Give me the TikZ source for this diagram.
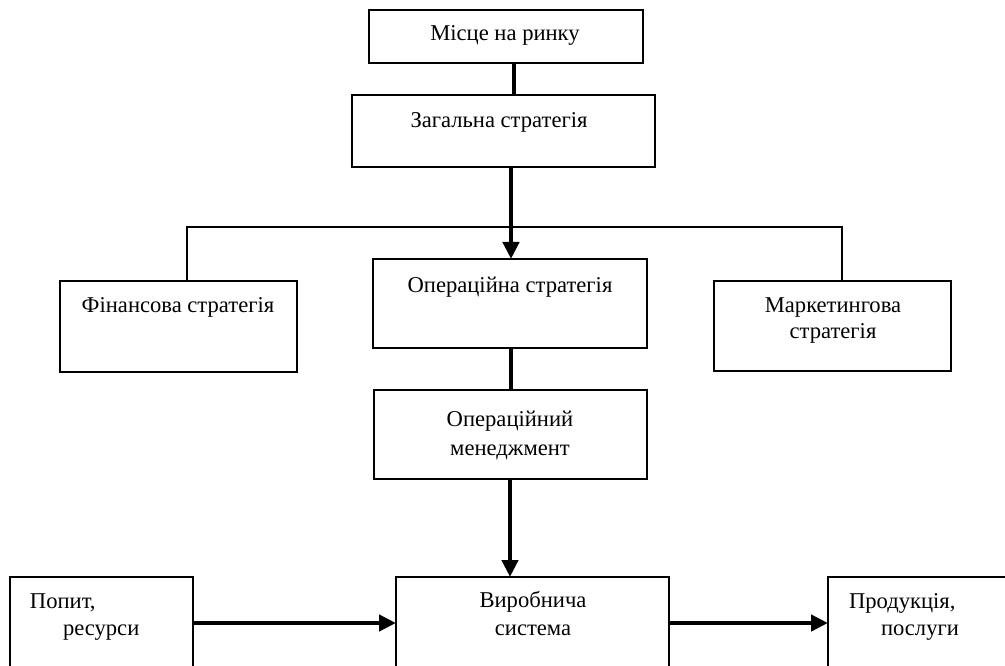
\documentclass[tikz,border=0pt]{standalone}
\usepackage{fontspec}
\setmainfont{Liberation Serif}
\usetikzlibrary{arrows.meta}
\begin{document}
\begin{tikzpicture}[x=1pt,y=-1pt,
  box/.style={draw=black,line width=2pt,inner sep=0pt,outer sep=0pt,fill=white},
  label/.style={inner sep=0pt,outer sep=0pt,anchor=base,
    font=\fontsize{22.6}{29}\selectfont},
  labelw/.style={label,anchor=base west},
  link/.style={draw=black,line width=4.5pt},
  flow/.style={link,-{Triangle[length=17pt,width=16pt]}},
  branch/.style={draw=black,line width=2pt}]
  % page frame
  \useasboundingbox (0,0) rectangle (1005,666);
  \clip (0,0) rectangle (1005,666);

  % boxes
  \node[box,minimum width=274pt,minimum height=53pt] (place) at (506,36.5) {};
  \node[box,minimum width=303pt,minimum height=72pt] (general) at (503.5,131) {};
  \node[box,minimum width=237pt,minimum height=91pt] (finance) at (178.5,326.5) {};
  \node[box,minimum width=274pt,minimum height=89pt] (opstrat) at (510,303.5) {};
  \node[box,minimum width=237pt,minimum height=90pt] (market) at (832.5,326) {};
  \node[box,minimum width=273pt,minimum height=89pt] (opmgmt) at (510.5,434.5) {};
  \node[box,minimum width=273pt,minimum height=123pt] (prodsys) at (532.5,638.5) {};
  \node[box,minimum width=183pt,minimum height=123pt] (input) at (101.5,638.5) {};
  \node[box,minimum width=272pt,minimum height=123pt] (output) at (964,638.5) {};

  % box texts
  \node[label] (tplace) at (505,41) {Місце на ринку};
  \node[label] (tgeneral) at (499,128) {Загальна стратегія};
  \node[label] (tfinance) at (178,312) {Фінансова стратегія};
  \node[label] (topstrat) at (510,292) {Операційна стратегія};
  \node[label] (tmarket1) at (833,312) {Маркетингова};
  \node[label] (tmarket2) at (833,338) {стратегія};
  \node[label] (topmgmt1) at (510,426) {Операційний};
  \node[label] (topmgmt2) at (510,455) {менеджмент};
  \node[label] (tprodsys1) at (533,607) {Виробнича};
  \node[label] (tprodsys2) at (533,635) {система};
  \node[labelw] (tinput1) at (30,608) {Попит,};
  \node[labelw] (tinput2) at (63,635) {ресурси};
  \node[labelw] (toutput1) at (849,608) {Продукція,};
  \node[labelw] (toutput2) at (881,635) {послуги};

  % connector guides
  \coordinate (xtop) at (514,0);
  \coordinate (xmid) at (511,0);
  \coordinate (xlow) at (510,0);
  \coordinate (ybus) at (0,623);
  \coordinate (tl) at (187,227);
  \coordinate (tr) at (842,227);

  % connectors
  \draw[link] (place.south -| xtop) -- (general.north -| xtop);
  \draw[flow] (general.south -| xmid) -- (opstrat.north -| xmid);
  \draw[branch] (finance.north -| tl) -- (tl) -- (tr) -- (market.north -| tr);
  \draw[link] (opstrat.south -| xmid) -- (opmgmt.north -| xmid);
  \draw[flow] (opmgmt.south -| xlow) -- (prodsys.north -| xlow);
  \draw[flow] (input.east |- ybus) -- (prodsys.west |- ybus);
  \draw[flow] (prodsys.east |- ybus) -- (output.west |- ybus);
\end{tikzpicture}
\end{document}
